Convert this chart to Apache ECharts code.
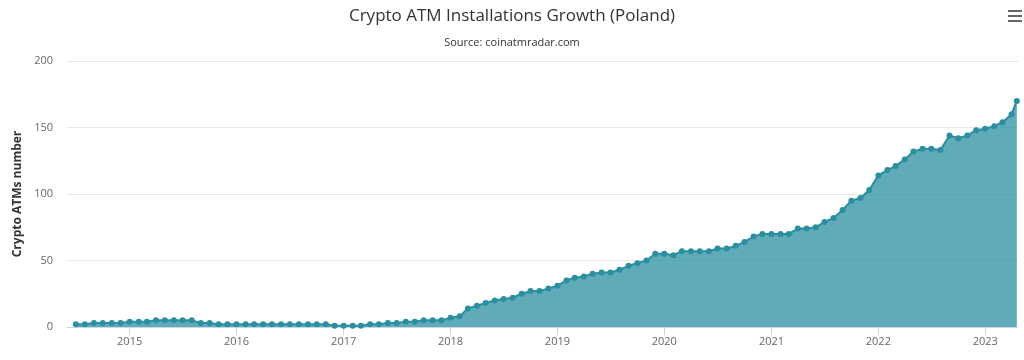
<!DOCTYPE html>
<html>
<head>
<meta charset="utf-8">
<script src="https://cdn.jsdelivr.net/npm/echarts@6/dist/echarts.min.js"></script>
<style>html,body{margin:0;padding:0;background:#fff}#c{width:1024px;height:360px}</style>
</head>
<body>
<div id="c"></div>
<script>
const titleText = 'Crypto ATM Installations Growth (Poland)';
const subtitleText = 'Source: coinatmradar.com';
const yAxisName = 'Crypto ATMs number';

const dates = [
 '2014-07-01','2014-08-01','2014-09-01','2014-10-01','2014-11-01','2014-12-01',
 '2015-01-01','2015-02-01','2015-03-01','2015-04-01','2015-05-01','2015-06-01','2015-07-01','2015-08-01','2015-09-01','2015-10-01','2015-11-01','2015-12-01',
 '2016-01-01','2016-02-01','2016-03-01','2016-04-01','2016-05-01','2016-06-01','2016-07-01','2016-08-01','2016-09-01','2016-10-01','2016-11-01','2016-12-01',
 '2017-01-01','2017-02-01','2017-03-01','2017-04-01','2017-05-01','2017-06-01','2017-07-01','2017-08-01','2017-09-01','2017-10-01','2017-11-01','2017-12-01',
 '2018-01-01','2018-02-01','2018-03-01','2018-04-01','2018-05-01','2018-06-01','2018-07-01','2018-08-01','2018-09-01','2018-10-01','2018-11-01','2018-12-01',
 '2019-01-01','2019-02-01','2019-03-01','2019-04-01','2019-05-01','2019-06-01','2019-07-01','2019-08-01','2019-09-01','2019-10-01','2019-11-01','2019-12-01',
 '2020-01-01','2020-02-01','2020-03-01','2020-04-01','2020-05-01','2020-06-01','2020-07-01','2020-08-01','2020-09-01','2020-10-01','2020-11-01','2020-12-01',
 '2021-01-01','2021-02-01','2021-03-01','2021-04-01','2021-05-01','2021-06-01','2021-07-01','2021-08-01','2021-09-01','2021-10-01','2021-11-01','2021-12-01',
 '2022-01-01','2022-02-01','2022-03-01','2022-04-01','2022-05-01','2022-06-01','2022-07-01','2022-08-01','2022-09-01','2022-10-01','2022-11-01','2022-12-01',
 '2023-01-01','2023-02-01','2023-03-01','2023-04-01','2023-04-19'
];

const atmCounts = [
 2,2,3,3,3,3,
 4,4,4,5,5,5,5,5,3,3,2,2,
 2,2,2,2,2,2,2,2,2,2,2,1,
 1,1,1,2,2,3,3,4,4,5,5,5,
 7,8,14,16,18,20,21,22,25,27,27,29,
 31,35,37,38,40,41,41,43,46,48,50,55,
 55,54,57,57,57,57,59,59,61,64,68,70,
 70,70,70,74,74,75,79,82,88,95,97,103,
 114,118,121,126,132,134,134,133,144,142,144,148,
 149,151,154,160,170
];

const yTicks = [0, 50, 100, 150, 200];

const seriesData = dates.map((d, i) => [d, atmCounts[i]]);

const chart = echarts.init(document.getElementById('c'), null, {renderer: 'canvas'});
chart.setOption({
  animation: false,
  backgroundColor: '#ffffff',
  title: {
    text: titleText,
    subtext: subtitleText,
    left: 'center',
    top: 3,
    itemGap: 12,
    textStyle: {fontFamily: 'Open Sans', fontSize: 17, fontWeight: 'normal', color: '#333333'},
    subtextStyle: {fontFamily: 'Open Sans', fontSize: 11, color: '#333333'}
  },
  graphic: [
    {type: 'rect', right: 2, top: 10, shape: {width: 14, height: 2}, style: {fill: '#666666'}},
    {type: 'rect', right: 2, top: 15, shape: {width: 14, height: 2}, style: {fill: '#666666'}},
    {type: 'rect', right: 2, top: 20, shape: {width: 14, height: 2}, style: {fill: '#666666'}}
  ],
  grid: {left: 67, right: 6, top: 61, bottom: 33, containLabel: false},
  xAxis: {
    type: 'time',
    min: '2014-06-01',
    max: '2023-04-23',
    minInterval: 365 * 86400000,
    maxInterval: 366 * 86400000,
    axisLine: {show: true, lineStyle: {color: '#ccd6eb', width: 1}},
    axisTick: {show: true, length: 8, lineStyle: {color: '#ccd6eb'}},
    splitLine: {show: false},
    axisLabel: {
      color: '#666666', fontFamily: 'Open Sans', fontSize: 11, margin: 9,
      showMinLabel: false, showMaxLabel: false,
      formatter: '{yyyy}'
    }
  },
  yAxis: {
    type: 'value',
    min: yTicks[0],
    max: yTicks[yTicks.length - 1],
    interval: 50,
    name: yAxisName,
    nameLocation: 'middle',
    nameRotate: 90,
    nameGap: 43,
    nameTextStyle: {fontFamily: 'Open Sans', fontSize: 12, color: '#333333', fontWeight: 'bold'},
    axisLine: {show: false},
    axisTick: {show: false},
    splitLine: {lineStyle: {color: '#e6e6e6', width: 1}},
    axisLabel: {color: '#666666', fontFamily: 'Open Sans', fontSize: 11, margin: 14}
  },
  series: [{
    type: 'line',
    data: seriesData,
    showSymbol: true,
    symbol: 'circle',
    symbolSize: 6,
    lineStyle: {color: '#2a8fa0', width: 2},
    itemStyle: {color: '#2a8fa0'},
    areaStyle: {color: '#2a8fa0', opacity: 0.75}
  }]
});
</script>
</body>
</html>
